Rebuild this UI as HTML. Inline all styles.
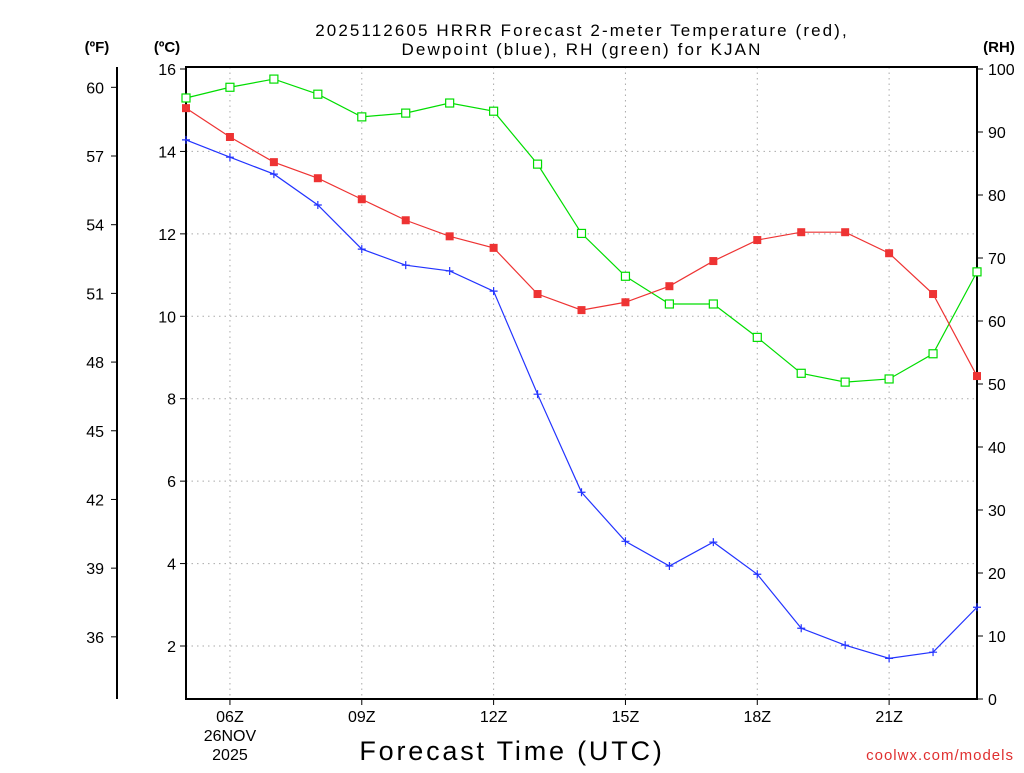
<!DOCTYPE html>
<html><head><meta charset="utf-8"><style>
body{margin:0;background:#fff;}
svg text{font-family:"Liberation Sans",sans-serif;}
</style></head><body>
<svg id="chart" width="1024" height="768" xmlns="http://www.w3.org/2000/svg">
<text x="582" y="36" font-size="17" letter-spacing="2.1" text-anchor="middle">2025112605 HRRR Forecast 2-meter Temperature (red),</text>
<text x="582" y="55" font-size="17" letter-spacing="2.1" text-anchor="middle">Dewpoint (blue), RH (green) for KJAN</text>
<text x="97" y="52" font-size="15" font-weight="bold" text-anchor="middle">(ºF)</text>
<text x="167" y="52" font-size="15" font-weight="bold" text-anchor="middle">(ºC)</text>
<text x="999" y="52" font-size="15" font-weight="bold" text-anchor="middle">(RH)</text>
<text x="512" y="760" font-size="27" letter-spacing="2.8" text-anchor="middle">Forecast Time (UTC)</text>
<text x="1014" y="760" font-size="15" letter-spacing="1" fill="#e03030" text-anchor="end">coolwx.com/models</text>
<g id="grid"></g><g id="axes"></g><g id="series"></g>
</svg>
<script>
const hours=[5,6,7,8,9,10,11,12,13,14,15,16,17,18,19,20,21,22,23];
const tempC=[15.05,14.35,13.74,13.35,12.84,12.33,11.94,11.66,10.54,10.15,10.34,10.73,11.34,11.85,12.04,12.04,11.53,10.54,8.55];
const dewC=[14.28,13.86,13.45,12.70,11.63,11.24,11.10,10.61,8.11,5.73,4.54,3.94,4.52,3.74,2.43,2.02,1.70,1.85,2.94];
const rh=[95.4,97.1,98.4,96.0,92.4,93.0,94.6,93.3,84.9,73.9,67.1,62.7,62.7,57.4,51.7,50.3,50.8,54.8,67.8];
const cTicks=[2,4,6,8,10,12,14,16];
const fTicks=[36,39,42,45,48,51,54,57,60];
const rhTicks=[0,10,20,30,40,50,60,70,80,90,100];
const xTicks=[6,9,12,15,18,21];
const xLabels=["06Z","09Z","12Z","15Z","18Z","21Z"];

const L=186,R=977,T=67,B=699;
const x=h=>L+(h-5)/(23-5)*(R-L);
const yC=c=>69+(16-c)*41.214;
const yF=f=>yC((f-32)/1.8);
const yR=r=>699-r*6.3;
const NS="http://www.w3.org/2000/svg";
function mk(tag,attrs,parent){const e=document.createElementNS(NS,tag);for(const k in attrs)e.setAttribute(k,attrs[k]);parent.appendChild(e);return e;}
const grid=document.getElementById('grid'),axes=document.getElementById('axes'),ser=document.getElementById('series');

cTicks.forEach(c=>{
  if(c<16){const g=mk('line',{x1:L,x2:R,y1:yC(c),y2:yC(c),stroke:'#aaa','stroke-dasharray':'1.5,4'},grid);
  
  }
  mk('line',{x1:L-6,x2:L,y1:yC(c),y2:yC(c),stroke:'#000'},axes);
  const t=mk('text',{x:L-10,y:yC(c)+6,'font-size':16,'text-anchor':'end'},axes);t.textContent=c;
  
  
});
xTicks.forEach((h,i)=>{
  const g=mk('line',{x1:x(h),x2:x(h),y1:T,y2:B,stroke:'#aaa','stroke-dasharray':'1.5,4'},grid);
  
  
  mk('line',{x1:x(h),x2:x(h),y1:B,y2:B+6,stroke:'#000'},axes);
  const t=mk('text',{x:x(h),y:722,'font-size':16,'text-anchor':'middle'},axes);t.textContent=xLabels[i];
  
  
});
[["26NOV",741],["2025",760]].forEach(d=>{const t=mk('text',{x:x(6),y:d[1],'font-size':16,'text-anchor':'middle'},axes);t.textContent=d[0];
  
  });
fTicks.forEach(f=>{
  mk('line',{x1:111,x2:117,y1:yF(f),y2:yF(f),stroke:'#000'},axes);
  const t=mk('text',{x:104,y:yF(f)+6,'font-size':16,'text-anchor':'end'},axes);t.textContent=f;
  
  
});
rhTicks.forEach(r=>{
  mk('line',{x1:R,x2:R+6,y1:yR(r),y2:yR(r),stroke:'#000'},axes);
  const t=mk('text',{x:R+11,y:yR(r)+6,'font-size':16},axes);t.textContent=r;
  
  
});
mk('rect',{x:L,y:T,width:R-L,height:B-T,fill:'none',stroke:'#000','stroke-width':2},axes);
mk('line',{x1:117,x2:117,y1:T,y2:B,stroke:'#000','stroke-width':2},axes);

function line(vals,yf,color,name){
  const p=mk('polyline',{points:vals.map((v,i)=>x(hours[i])+','+yf(v)).join(' '),fill:'none',stroke:color,'stroke-width':1.2},ser);
  
  
}
line(rh,yR,'#00dd00','rh');
line(tempC,yC,'#ee3333','temperature');
line(dewC,yC,'#2233ff','dewpoint');
rh.forEach((v,i)=>{const m=mk('rect',{x:x(hours[i])-4,y:yR(v)-4,width:8,height:8,fill:'#fff',stroke:'#00dd00','stroke-width':1.2},ser);
  
  });
tempC.forEach((v,i)=>{const m=mk('rect',{x:x(hours[i])-4,y:yC(v)-4,width:8,height:8,fill:'#ee3333'},ser);
  
  });
dewC.forEach((v,i)=>{const m=mk('path',{d:`M${x(hours[i])-4} ${yC(v)}h8M${x(hours[i])} ${yC(v)-4}v8`,stroke:'#2233ff','stroke-width':1.2},ser);
  
  });
</script>
</body></html>
